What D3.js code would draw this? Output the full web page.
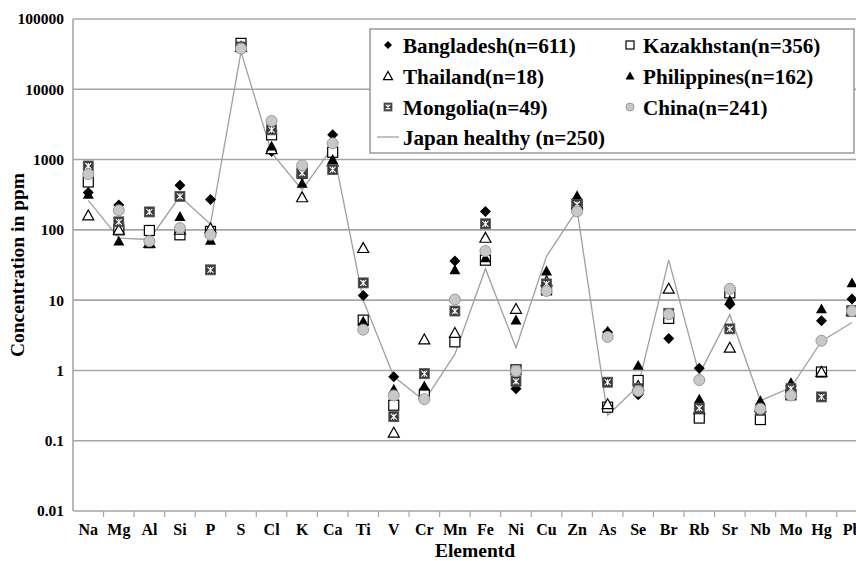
<!DOCTYPE html>
<html>
<head>
<meta charset="utf-8">
<script src="https://cdn.jsdelivr.net/npm/d3@7"></script>
<style>
  html, body { margin: 0; padding: 0; background: #fff; overflow: hidden; }
  text { font-family: "Liberation Serif", "Times New Roman", serif; font-weight: bold; fill: #000; }
</style>
</head>
<body>
<svg id="chart" width="856" height="561"></svg>
<script>
const elements = ["Na","Mg","Al","Si","P","S","Cl","K","Ca","Ti","V","Cr","Mn","Fe","Ni","Cu","Zn","As","Se","Br","Rb","Sr","Nb","Mo","Hg","Pb"];
const yTickValues = [0.01, 0.1, 1, 10, 100, 1000, 10000, 100000];
const yTickLabels = ["0.01","0.1","1","10","100","1000","10000","100000"];

const bangladesh  = [340, 225, 65, 430, 270, 40000, 1300, 600, 2250, 11.6, 0.81, 0.54, 36, 183, 0.55, 16, 270, 3.5, 0.45, 2.85, 1.07, 8.7, 0.3, 0.6, 5.1, 10.4];
const kazakhstan  = [480, 100, 98, 85, 95, 45000, 2250, 640, 1270, 5.2, 0.32, 0.45, 2.55, 37, 1.02, 14, 230, 0.3, 0.72, 5.5, 0.21, 12.7, 0.2, 0.45, 0.95, 7];
const thailand    = [160, 100, 65, 100, 105, 40000, 1400, 290, 940, 55, 0.13, 2.75, 3.4, 77, 7.5, 18.5, 230, 0.33, 0.6, 14.5, 0.28, 2.1, 0.3, 0.5, 0.95, 7];
const philippines = [320, 69, 63, 155, 71, 40000, 1550, 460, 1000, 5, 0.54, 0.6, 27, 40, 5.2, 26, 305, 3.6, 1.18, 6.5, 0.39, 10, 0.37, 0.67, 7.5, 17.6];
const mongolia    = [810, 130, 180, 300, 27, 40000, 2650, 640, 720, 17.6, 0.22, 0.9, 7, 122, 0.7, 17, 230, 0.68, 0.55, 6.5, 0.29, 3.9, 0.27, 0.55, 0.42, 7];
const china       = [620, 190, 69, 106, 85, 38000, 3550, 830, 1700, 3.8, 0.44, 0.39, 10.2, 50, 0.98, 13.5, 183, 3.0, 0.51, 6.3, 0.73, 14.5, 0.285, 0.44, 2.65, 7];
const japan       = [262, 76, 73, 300, 120, 34000, 1250, 370, 1500, 10, 0.82, 0.37, 1.7, 28, 2.1, 42, 193, 0.23, 0.6, 37, 0.88, 6.2, 0.37, 0.57, 2.6, 4.8];

const seriesNames = ["Bangladesh(n=611)","Kazakhstan(n=356)","Thailand(n=18)","Philippines(n=162)","Mongolia(n=49)","China(n=241)","Japan healthy (n=250)"];

(function () {
const svg = d3.select("#chart");
const pLeft = 73, pTop = 19, pBottom = 511, band = 30.55;
const x = d3.scaleBand().domain(elements).range([pLeft, pLeft + elements.length * band]).padding(0);
const y = d3.scaleLog().domain([0.01, 100000]).range([pBottom, pTop]);
const grid = "#a6a6a6";

svg.append("g").selectAll("line").data(yTickValues).join("line")
  .attr("x1", pLeft).attr("x2", x.range()[1])
  .attr("y1", d => y(d)).attr("y2", d => y(d))
  .attr("stroke", grid).attr("stroke-width", 1.6);

svg.append("line").attr("x1", pLeft).attr("x2", pLeft).attr("y1", pTop).attr("y2", pBottom)
  .attr("stroke", grid).attr("stroke-width", 1.6);

const yAxis = d3.axisLeft(y).tickValues(yTickValues).tickFormat((d, i) => yTickLabels[i]).tickSize(0).tickPadding(9);
const ya = svg.append("g").attr("transform", `translate(${pLeft},0)`).call(yAxis);
ya.select(".domain").remove();
ya.selectAll("text").attr("font-size", 15.5);

const xAxis = d3.axisBottom(x).tickSize(0).tickPadding(13);
const xa = svg.append("g").attr("transform", `translate(0,${pBottom})`).call(xAxis);
xa.select(".domain").remove();
xa.selectAll("text").attr("font-size", 16);
svg.append("g").selectAll("line").data(elements).join("line")
  .attr("x1", d => x(d) + x.bandwidth()).attr("x2", d => x(d) + x.bandwidth())
  .attr("y1", pBottom).attr("y2", pBottom + 6)
  .attr("stroke", grid).attr("stroke-width", 1.2);

svg.append("text").attr("x", 475).attr("y", 557)
  .attr("text-anchor", "middle").attr("font-size", 19.5).text("Elementd");
svg.append("text").attr("transform", `translate(24,${(pTop + pBottom) / 2}) rotate(-90)`)
  .attr("text-anchor", "middle").attr("font-size", 19.5).text("Concentration in ppm");

const line = d3.line().x((d, i) => x(elements[i]) + x.bandwidth() / 2).y(d => y(d));
svg.append("path").datum(japan).attr("d", line)
  .attr("fill", "none").attr("stroke", "#a0a0a0").attr("stroke-width", 1.3);

function diamond(g, s) {
  g.append("path").attr("d", `M0,${-s}L${s},0L0,${s}L${-s},0Z`).attr("fill", "#000");
}
function square(g, s) {
  g.append("rect").attr("x", -s).attr("y", -s).attr("width", 2*s).attr("height", 2*s)
    .attr("fill", "#fff").attr("stroke", "#000").attr("stroke-width", 1.2);
}
function triOpen(g, s) {
  g.append("path").attr("d", `M0,${-s}L${s},${s*0.8}L${-s},${s*0.8}Z`)
    .attr("fill", "#fff").attr("stroke", "#000").attr("stroke-width", 1.2);
}
function triFill(g, s) {
  g.append("path").attr("d", `M0,${-s}L${s},${s*0.8}L${-s},${s*0.8}Z`).attr("fill", "#000");
}
function mongo(g, s) {
  g.append("rect").attr("x", -s).attr("y", -s).attr("width", 2*s).attr("height", 2*s)
    .attr("fill", "#3a3a3a").attr("stroke", "#555").attr("stroke-width", 0.8);
  const k = s * 0.6;
  g.append("path").attr("d", `M${-k},${-k}L${k},${k}M${k},${-k}L${-k},${k}M0,${-k}L0,${k}`)
    .attr("stroke", "#fff").attr("stroke-width", 1.1).attr("fill", "none");
}
function circ(g, s) {
  g.append("circle").attr("r", s).attr("fill", "#c8c8c8").attr("stroke", "#9a9a9a").attr("stroke-width", 1);
}

const series = [
  {vals: bangladesh, draw: diamond, s: 5.5},
  {vals: kazakhstan, draw: square, s: 5},
  {vals: thailand, draw: triOpen, s: 5.5},
  {vals: philippines, draw: triFill, s: 5.5},
  {vals: mongolia, draw: mongo, s: 5},
  {vals: china, draw: circ, s: 5.5}
];

series.forEach(sr => {
  const g = svg.append("g");
  sr.vals.forEach((v, i) => {
    const m = g.append("g").attr("transform", `translate(${x(elements[i]) + x.bandwidth() / 2},${y(v)})`);
    sr.draw(m, sr.s);
  });
});

const lg = svg.append("g");
lg.append("rect").attr("x", 370).attr("y", 29).attr("width", 484).attr("height", 124)
  .attr("fill", "#fff").attr("stroke", "#8a8a8a").attr("stroke-width", 1.3);
const rowsY = [45, 76, 107, 137];
const legendItems = [
  {name: seriesNames[0], draw: diamond, s: 4, col: 0, row: 0},
  {name: seriesNames[1], draw: square, s: 4, col: 1, row: 0},
  {name: seriesNames[2], draw: triOpen, s: 4.5, col: 0, row: 1},
  {name: seriesNames[3], draw: triFill, s: 4.5, col: 1, row: 1},
  {name: seriesNames[4], draw: mongo, s: 4, col: 0, row: 2},
  {name: seriesNames[5], draw: circ, s: 4, col: 1, row: 2}
];
const colMarkX = [388, 630], colTextX = [403, 643];
legendItems.forEach(it => {
  const m = lg.append("g").attr("transform", `translate(${colMarkX[it.col]},${rowsY[it.row]})`);
  it.draw(m, it.s);
  lg.append("text").attr("transform", `translate(${colTextX[it.col]},${rowsY[it.row]}) scale(0.96,1)`)
    .attr("dy", "0.35em").attr("font-size", 22).text(it.name);
});
lg.append("line").attr("x1", 377).attr("x2", 399).attr("y1", rowsY[3]).attr("y2", rowsY[3])
  .attr("stroke", "#a0a0a0").attr("stroke-width", 1.3);
lg.append("text").attr("transform", `translate(403,${rowsY[3]}) scale(0.96,1)`)
  .attr("dy", "0.35em").attr("font-size", 22).text(seriesNames[6]);

svg.selectAll("text")
  .style("font-family", "'Liberation Serif', 'Times New Roman', serif")
  .style("font-weight", "bold")
  .attr("fill", "#000");
})();
</script>
</body>
</html>
